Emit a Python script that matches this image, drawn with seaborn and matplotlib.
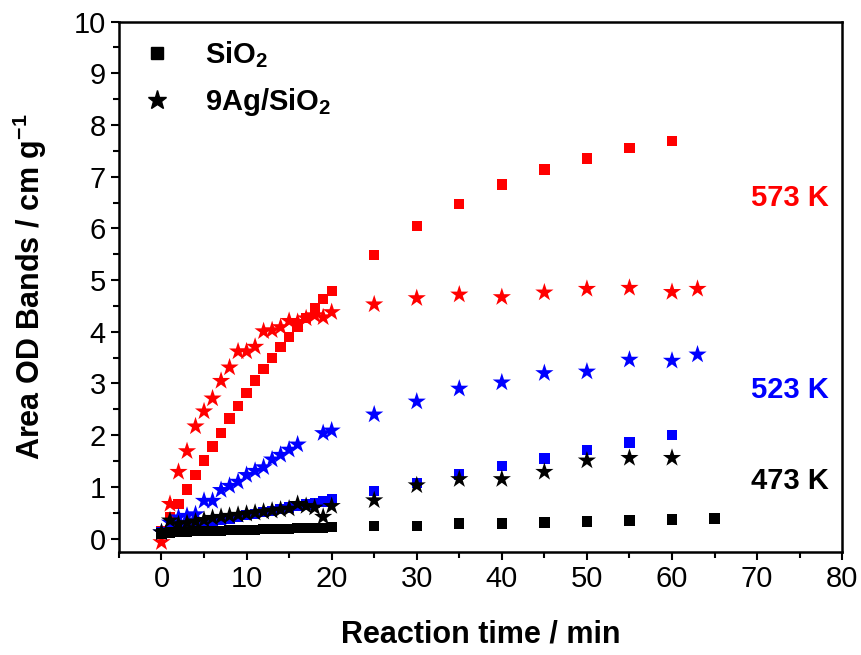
import numpy as np
import pandas as pd
import seaborn as sns
import matplotlib.pyplot as plt
from matplotlib.lines import Line2D
from matplotlib.ticker import MultipleLocator

sns.set_style("ticks")
plt.rcParams['font.family'] = ['Liberation Sans', 'DejaVu Sans']
plt.rcParams['mathtext.fontset'] = 'custom'
plt.rcParams['mathtext.rm'] = 'Liberation Sans'
plt.rcParams['mathtext.bf'] = 'Liberation Sans:bold'
plt.rcParams['mathtext.default'] = 'bf'
plt.rcParams['text.color'] = 'black'
plt.rcParams['axes.labelcolor'] = 'black'

# reaction times (min)
t_fast = list(range(0, 21))
t_slow = [25, 30, 35, 40, 45, 50, 55, 60]

# SiO2 (squares)
sio2_573 = [0.15, 0.42, 0.67, 0.95, 1.23, 1.51, 1.78, 2.04, 2.32, 2.56, 2.81,
            3.06, 3.28, 3.49, 3.71, 3.90, 4.09, 4.27, 4.46, 4.63, 4.79,
            5.49, 6.05, 6.47, 6.85, 7.14, 7.35, 7.55, 7.69]
sio2_523 = [0.12, 0.16, 0.20, 0.24, 0.27, 0.30, 0.33, 0.36, 0.39, 0.42, 0.45,
            0.48, 0.51, 0.54, 0.57, 0.60, 0.63, 0.66, 0.69, 0.72, 0.76,
            0.92, 1.08, 1.24, 1.40, 1.55, 1.71, 1.86, 2.01]
sio2_473_t = t_fast + t_slow + [65]
sio2_473 = [0.10, 0.12, 0.13, 0.13, 0.14, 0.14, 0.15, 0.15, 0.16, 0.16, 0.17,
            0.17, 0.18, 0.18, 0.19, 0.19, 0.20, 0.20, 0.21, 0.21, 0.22,
            0.24, 0.25, 0.29, 0.29, 0.31, 0.33, 0.35, 0.37, 0.39]

# 9Ag/SiO2 (stars)
ag_573_t = t_fast + t_slow + [63]
ag_573 = [-0.07, 0.67, 1.29, 1.69, 2.17, 2.46, 2.71, 3.05, 3.31, 3.62, 3.62,
          3.71, 4.01, 4.03, 4.09, 4.21, 4.19, 4.26, 4.32, 4.28, 4.38,
          4.53, 4.65, 4.72, 4.67, 4.76, 4.83, 4.85, 4.77, 4.83]
ag_523_t = list(range(0, 17)) + [19, 20] + t_slow + [63]
ag_523 = [0.12, 0.31, 0.41, 0.44, 0.47, 0.73, 0.73, 0.94, 1.02, 1.10, 1.23,
          1.31, 1.38, 1.53, 1.62, 1.72, 1.82, 2.04, 2.09,
          2.40, 2.65, 2.90, 3.02, 3.20, 3.23, 3.46, 3.44, 3.56]
ag_473 = [0.12, 0.35, 0.28, 0.30, 0.33, 0.36, 0.40, 0.42, 0.44, 0.46, 0.48,
          0.50, 0.52, 0.54, 0.56, 0.58, 0.67, 0.63, 0.60, 0.42, 0.63,
          0.74, 1.03, 1.15, 1.15, 1.29, 1.51, 1.56, 1.56]

colors = {'573 K': '#ff0000', '523 K': '#0000ff', '473 K': '#000000'}

series = [
    ('SiO2', '573 K', t_fast + t_slow, sio2_573),
    ('9Ag/SiO2', '573 K', ag_573_t, ag_573),
    ('SiO2', '523 K', t_fast + t_slow, sio2_523),
    ('9Ag/SiO2', '523 K', ag_523_t, ag_523),
    ('SiO2', '473 K', sio2_473_t, sio2_473),
    ('9Ag/SiO2', '473 K', t_fast + t_slow, ag_473),
]

fig = plt.figure(figsize=(8.62, 6.55), dpi=100)
ax = fig.add_axes([0.138, 0.158, 0.839, 0.809])

for sample, temp, t, y in series:
    d = pd.DataFrame({'time': t, 'area': y})
    if sample == 'SiO2':
        sns.scatterplot(data=d, x='time', y='area', marker='s', s=55,
                        color=colors[temp], edgecolor='none', ax=ax)
    else:
        sns.scatterplot(data=d, x='time', y='area', marker='*', s=190,
                        color=colors[temp], edgecolor='none', ax=ax)

ax.set_xlim(-5, 80)
ax.set_ylim(-0.25, 10)
ax.xaxis.set_major_locator(MultipleLocator(10))
ax.xaxis.set_minor_locator(MultipleLocator(5))
ax.yaxis.set_major_locator(MultipleLocator(1))
ax.yaxis.set_minor_locator(MultipleLocator(0.5))
ax.tick_params(which='major', length=6, width=1.5, labelsize=21, colors='black')
ax.tick_params(which='minor', length=4, width=1.5, colors='black')
for sp in ax.spines.values():
    sp.set_linewidth(1.8)
    sp.set_color('black')

ax.set_xlabel('Reaction time / min', fontsize=22, fontweight='bold', labelpad=19)
ax.set_ylabel('Area OD Bands / cm g$^{-1}$', fontsize=22, fontweight='bold', labelpad=18)

ax.text(69.3, 6.58, '573 K', color=colors['573 K'], fontsize=21, fontweight='bold', va='center')
ax.text(69.3, 2.87, '523 K', color=colors['523 K'], fontsize=21, fontweight='bold', va='center')
ax.text(69.3, 1.12, '473 K', color=colors['473 K'], fontsize=21, fontweight='bold', va='center')

handles = [
    Line2D([], [], marker='s', color='black', linestyle='none', markersize=8),
    Line2D([], [], marker='*', color='black', linestyle='none', markersize=14),
]
ax.legend(handles, ['SiO$_2$', '9Ag/SiO$_2$'], loc='upper left', frameon=False,
          prop={'size': 21, 'weight': 'bold'}, handlelength=1.4, handletextpad=0.95,
          borderaxespad=0.2, borderpad=0.4, labelspacing=0.55,
          bbox_to_anchor=(0.0, 1.0))

fig.savefig('out.png', dpi=100)
